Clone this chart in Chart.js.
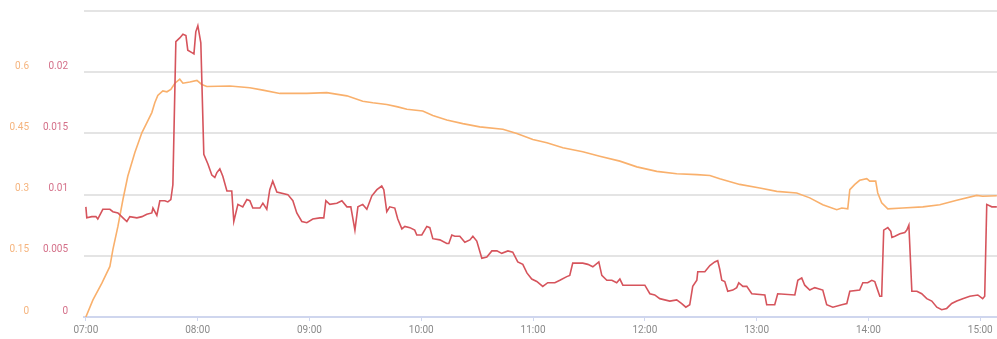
<!DOCTYPE html>
<html>
<head>
<meta charset="utf-8">
<script src="https://cdn.jsdelivr.net/npm/chart.js@4"></script>
<style>
  body { margin: 0; background: #fff; }
  #wrap { width: 997px; height: 339px; }
</style>
</head>
<body>
<div id="wrap"><canvas id="chart"></canvas></div>
<script>
// minutes after 07:00
const redTimes = [0, 0.5, 3.2, 5.4, 6.4, 9.1, 12.9, 14.5, 17.2, 19.9, 22, 23.6, 27.4, 30.1, 32.7, 35.4, 36, 38.1, 39.7, 42.4,
  44, 45.6, 46.7, 48.3, 50.4, 52.1, 53.7, 54.7, 56.9, 58, 59, 60.1, 61.7, 63.3, 65.5, 67.6, 69.2, 70.3, 71.9, 73.5,
  75.7, 78.3, 79.4, 81.6, 84.2, 86.4, 88, 89.6, 93.4, 95, 97.1, 98.7, 100.3, 102.5, 108.4, 111.1, 113.2, 115.9, 118.6, 121.8,
  125.6, 127.7, 128.8, 130.9, 134.7, 137.4, 140.1, 142.2, 144.4, 146, 148.6, 150.8, 153.5, 156.2, 158.8, 159.9, 161.5, 163.1, 165.8, 167.4,
  169.6, 171.2, 173.9, 176.5, 177.6, 180.3, 183, 184.6, 186.2, 190, 193.7, 194.8, 196.4, 198, 200.7, 203.4, 206.1, 207.7, 209.8, 212.5,
  215.2, 217.9, 220.6, 223.2, 226.5, 229.1, 231.8, 234.5, 236.7, 239.3, 242, 245.2, 247.9, 251.7, 254.4, 258.1, 259.7, 261.3, 266.7, 269.4,
  272.1, 275.3, 276.9, 279.6, 282.3, 284.9, 286.6, 288.2, 300, 302.7, 305.3, 308, 310.7, 313.4, 317.1, 319.8, 322, 324.1, 325.7, 327.9,
  328.4, 332.2, 334.9, 337.5, 339.1, 340.2, 341.3, 342.9, 344.5, 347.2, 349.3, 350.4, 352.6, 354.7, 357.4, 364.4, 365.4, 369.7, 371.3, 380.5,
  382.1, 384.2, 385.8, 388.5, 391.2, 395.5, 397.6, 400.9, 405.7, 408.4, 410, 415.3, 417, 419.6, 421.8, 423.4, 424.5, 426.1, 427.1, 428.2,
  430.4, 432, 432.6, 434.2, 436.9, 439.5, 440.6, 441.7, 443.3, 446, 448.6, 451.3, 454, 456.7, 459.3, 462, 464.7, 467.4, 470.6, 474.4,
  478.7, 481.3, 482.4, 483.5, 486.2, 488.9]
const redValues = [0.0090, 0.0081, 0.0082, 0.0082, 0.0080, 0.0088, 0.0088, 0.0086, 0.0085, 0.0081, 0.0078, 0.0082, 0.0081, 0.0082, 0.0084, 0.0085, 0.0089, 0.0083, 0.0095, 0.0095,
  0.0094, 0.0096, 0.0108, 0.0225, 0.0228, 0.0231, 0.0230, 0.0218, 0.0216, 0.0215, 0.0233, 0.0238, 0.0224, 0.0133, 0.0125, 0.0116, 0.0114, 0.0118, 0.0121, 0.0115,
  0.0103, 0.0103, 0.0078, 0.0092, 0.0090, 0.0096, 0.0095, 0.0089, 0.0089, 0.0093, 0.0088, 0.0104, 0.0111, 0.0102, 0.0100, 0.0095, 0.0085, 0.0078, 0.0077, 0.0080,
  0.0081, 0.0081, 0.0095, 0.0092, 0.0093, 0.0095, 0.0090, 0.0090, 0.0071, 0.0090, 0.0092, 0.0088, 0.0099, 0.0104, 0.0107, 0.0104, 0.0086, 0.0090, 0.0089, 0.0080,
  0.0072, 0.0074, 0.0073, 0.0071, 0.0067, 0.0067, 0.0074, 0.0073, 0.0064, 0.0063, 0.0060, 0.0060, 0.0067, 0.0066, 0.0066, 0.0061, 0.0063, 0.0066, 0.0062, 0.0048,
  0.0049, 0.0054, 0.0054, 0.0052, 0.0054, 0.0053, 0.0045, 0.0043, 0.0036, 0.0031, 0.0029, 0.0025, 0.0028, 0.0028, 0.0030, 0.0033, 0.0034, 0.0044, 0.0044, 0.0043,
  0.0041, 0.0045, 0.0034, 0.0030, 0.0030, 0.0028, 0.0031, 0.0026, 0.0026, 0.0019, 0.0018, 0.0015, 0.0014, 0.0013, 0.0014, 0.0011, 0.0008, 0.0010, 0.0025, 0.0030,
  0.0037, 0.0037, 0.0042, 0.0045, 0.0046, 0.0039, 0.0030, 0.0029, 0.0021, 0.0022, 0.0024, 0.0028, 0.0025, 0.0025, 0.0019, 0.0018, 0.0010, 0.0010, 0.0019, 0.0018,
  0.0030, 0.0032, 0.0026, 0.0022, 0.0024, 0.0022, 0.0010, 0.0008, 0.0010, 0.0011, 0.0021, 0.0022, 0.0028, 0.0028, 0.0030, 0.0029, 0.0024, 0.0017, 0.0017, 0.0071,
  0.0073, 0.0070, 0.0065, 0.0066, 0.0068, 0.0069, 0.0071, 0.0075, 0.0021, 0.0021, 0.0019, 0.0015, 0.0013, 0.0008, 0.0006, 0.0007, 0.0011, 0.0013, 0.0015, 0.0017,
  0.0018, 0.0015, 0.0017, 0.0092, 0.0090, 0.0090]

const orangeTimes = [0, 3.8, 8.6, 12.9, 14.5, 17.2, 19.9, 22.5, 26.3, 30.1, 32.7, 35.4, 37, 38.6, 41.3, 43.5, 45.6, 47.8, 50.4, 52.1,
  55.8, 59.6, 62.2, 64.9, 77.3, 88, 95, 104.1, 118.6, 129.3, 140.1, 148.6, 154, 161.5, 167.4, 172.3, 180.8, 186.2, 193.7, 202.3,
  211.4, 223.8, 231.3, 239.9, 247.4, 256, 266.7, 275.8, 286.6, 295.7, 306.4, 317.1, 327.9, 334.9, 340.2, 350.9, 361.7, 370.8, 381.5, 388.5,
  395.5, 403, 405.7, 408.9, 410, 412.7, 415.3, 419.1, 420.7, 423.9, 425, 427.1, 430.4, 438.4, 449.2, 458.3, 467.4, 478.1, 481.3, 488.9]
const orangeValues = [0, 0.042, 0.083, 0.124, 0.165, 0.222, 0.288, 0.345, 0.403, 0.452, 0.476, 0.501, 0.525, 0.543, 0.554, 0.552, 0.558, 0.573, 0.583, 0.573,
  0.576, 0.580, 0.570, 0.565, 0.566, 0.562, 0.556, 0.548, 0.548, 0.550, 0.542, 0.529, 0.525, 0.521, 0.515, 0.509, 0.505, 0.494, 0.483, 0.474,
  0.466, 0.460, 0.450, 0.435, 0.427, 0.415, 0.405, 0.394, 0.382, 0.368, 0.357, 0.351, 0.349, 0.347, 0.339, 0.325, 0.316, 0.308, 0.304, 0.292,
  0.275, 0.263, 0.267, 0.265, 0.312, 0.325, 0.335, 0.339, 0.333, 0.333, 0.304, 0.280, 0.265, 0.267, 0.270, 0.275, 0.286, 0.298, 0.296, 0.297]

const redTicks = [0, 0.005, 0.01, 0.015, 0.02]
const orangeTicks = [0, 0.15, 0.3, 0.45, 0.6]

const toPoints = (xs, ys) => xs.map((x, i) => ({ x: x, y: ys[i] }))
const hhmm = m => {
    const h = 7 + Math.floor(m / 60)
    const mm = Math.round(m % 60)
    return String(h).padStart(2, '0') + ':' + String(mm).padStart(2, '0')
}
const tickFont = { family: 'Roboto', size: 10 }

// fixed widths, and no extra room reserved for the top/bottom labels
const fitY = width => axis => {
    axis.width = width
    axis.paddingTop = 0
    axis.paddingBottom = 0
}

const ctx = document.getElementById('chart')
new Chart(ctx, {
    type: 'line',
    data: {
        datasets: [{
            data: toPoints(redTimes, redValues),
            yAxisID: 'yRed',
            borderColor: '#d6545c',
            borderWidth: 1.6,
            pointRadius: 0,
            tension: 0
        }, {
            data: toPoints(orangeTimes, orangeValues),
            yAxisID: 'yOrange',
            borderColor: '#f9b06c',
            borderWidth: 1.6,
            pointRadius: 0,
            tension: 0
        }]
    },
    options: {
        animation: false,
        responsive: true,
        maintainAspectRatio: false,
        layout: { padding: { top: 11, right: 0, left: 0, bottom: 0 } },
        plugins: {
            legend: { display: false },
            tooltip: { enabled: false }
        },
        scales: {
            x: {
                type: 'linear',
                min: -1,
                max: 489,
                grid: {
                    drawOnChartArea: false,
                    drawTicks: true,
                    tickLength: 4,
                    color: '#cfd6ee'
                },
                border: { color: '#cfd6ee', width: 2 },
                ticks: {
                    stepSize: 60,
                    includeBounds: false,
                    maxRotation: 0,
                    padding: 3,
                    color: '#8a8a8a',
                    font: tickFont,
                    callback: v => hhmm(v)
                },
                afterFit: axis => {
                    axis.height = 22
                    axis.paddingLeft = 0
                    axis.paddingRight = 0
                }
            },
            // inner axis (closest to the plot)
            yRed: {
                position: 'left',
                min: 0,
                max: 0.025,
                grid: {
                    drawTicks: false,
                    lineWidth: 2,
                    color: c => c.tick && c.tick.value === 0 ? 'rgba(0,0,0,0)' : '#e4e4e4'
                },
                border: { display: false },
                afterBuildTicks: axis => {
                    axis.ticks = redTicks.concat([0.025]).map(v => ({ value: v }))
                },
                ticks: {
                    padding: 16,
                    labelOffset: -6,
                    color: '#d47089',
                    font: tickFont,
                    callback: v => redTicks.includes(v) ? String(v) : ''
                },
                afterFit: fitY(50)
            },
            // outer axis
            yOrange: {
                position: 'left',
                min: 0,
                max: 0.75,
                grid: { drawOnChartArea: false, drawTicks: false },
                border: { display: false },
                afterBuildTicks: axis => {
                    axis.ticks = orangeTicks.concat([0.75]).map(v => ({ value: v }))
                },
                ticks: {
                    padding: 5,
                    labelOffset: -6,
                    color: '#f5b47e',
                    font: tickFont,
                    callback: v => orangeTicks.includes(v) ? String(v) : ''
                },
                afterFit: fitY(34)
            }
        }
    }
})
</script>
</body>
</html>
